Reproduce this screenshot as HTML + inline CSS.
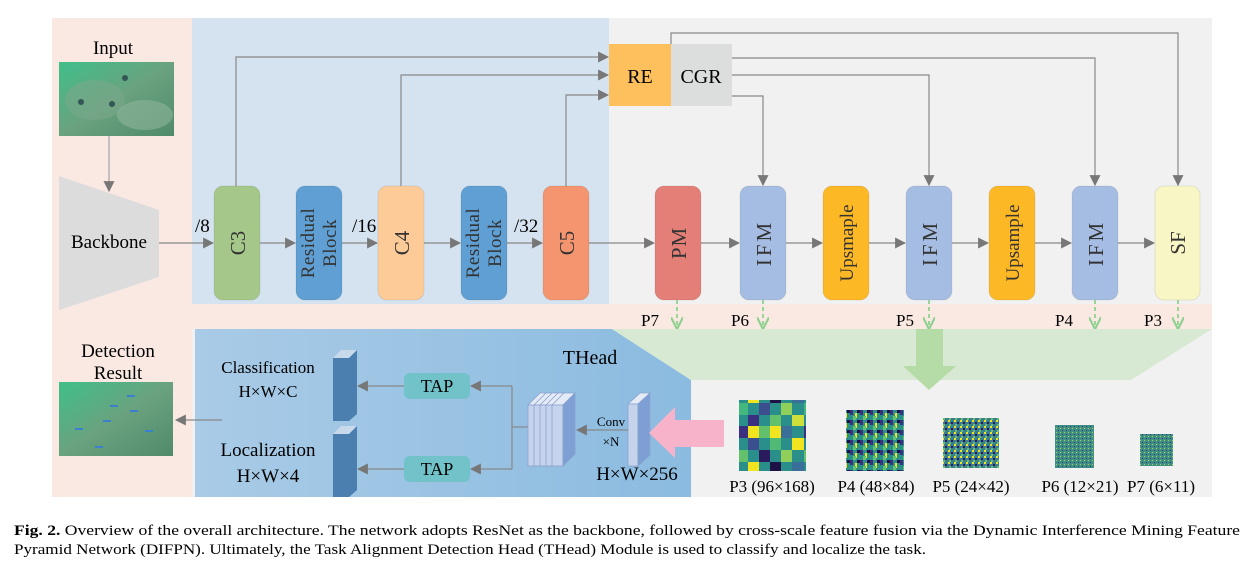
<!DOCTYPE html>
<html><head><meta charset="utf-8"><style>
html,body{margin:0;padding:0;background:#fff;}
svg{display:block;font-family:"Liberation Serif",serif;}
</style></head><body>
<svg width="1252" height="571" viewBox="0 0 1252 571" xmlns="http://www.w3.org/2000/svg">
<defs>
<marker id="a" viewBox="0 0 10 10" refX="9" refY="5" markerWidth="11" markerHeight="11" markerUnits="userSpaceOnUse" orient="auto"><path d="M0,0 L10,5 L0,10 z" fill="#777"/></marker>
<marker id="g" viewBox="0 0 10 10" refX="9" refY="5" markerWidth="12" markerHeight="12" markerUnits="userSpaceOnUse" orient="auto"><path d="M0,0 L10,5 L0,10" fill="none" stroke="#8fd18f" stroke-width="1.8"/></marker>
<linearGradient id="tb" x1="0" x2="1"><stop offset="0" stop-color="#a9cbe6"/><stop offset="1" stop-color="#8bbbe0"/></linearGradient>
<pattern id="p3" width="67" height="71" patternUnits="userSpaceOnUse">
<rect width="67" height="71" fill="#2a8f8b"/>
<rect x="0" y="0" width="11" height="12" fill="#3b2f80"/><rect x="11" y="0" width="11" height="12" fill="#f2e41e"/><rect x="22" y="0" width="11" height="12" fill="#63c06b"/><rect x="33" y="0" width="11" height="12" fill="#f2e41e"/><rect x="44" y="0" width="11" height="12" fill="#3a6f9a"/>
<rect x="11" y="12" width="11" height="12" fill="#3b4f8f"/><rect x="33" y="12" width="11" height="12" fill="#50b975"/><rect x="55" y="12" width="12" height="12" fill="#f2e41e"/>
<rect x="0" y="24" width="11" height="12" fill="#63c06b"/><rect x="22" y="24" width="11" height="12" fill="#2a1a5e"/><rect x="44" y="24" width="11" height="12" fill="#90d05a"/>
<rect x="11" y="36" width="11" height="12" fill="#f2e41e"/><rect x="33" y="36" width="11" height="12" fill="#1d1145"/><rect x="55" y="36" width="12" height="12" fill="#3a6f9a"/>
<rect x="0" y="48" width="11" height="12" fill="#42b87e"/><rect x="22" y="48" width="11" height="12" fill="#3b4f8f"/><rect x="44" y="48" width="11" height="12" fill="#8fd05a"/>
<rect x="11" y="60" width="11" height="11" fill="#3b2f80"/><rect x="33" y="60" width="11" height="11" fill="#63c06b"/><rect x="55" y="60" width="12" height="11" fill="#cfe03a"/>
</pattern>
<pattern id="p4" width="10" height="10" patternUnits="userSpaceOnUse">
<rect width="10" height="10" fill="#2a8f8b"/><rect width="3" height="5" fill="#3b2f80"/><rect x="5" y="3" width="2" height="5" fill="#f2e41e"/><rect x="3" y="6" width="3" height="4" fill="#63c06b"/><rect x="7" y="0" width="3" height="3" fill="#1d1145"/>
</pattern>
<pattern id="p5" width="6" height="6" patternUnits="userSpaceOnUse">
<rect width="6" height="6" fill="#3b7f8f"/><rect width="2" height="2" fill="#f2e41e"/><rect x="3" y="2" width="2" height="2" fill="#2a1a5e"/><rect x="1" y="4" width="2" height="2" fill="#63c06b"/>
</pattern>
<pattern id="p6" width="4" height="4" patternUnits="userSpaceOnUse">
<rect width="4" height="4" fill="#3f8f86"/><rect width="1" height="1" fill="#b0d040"/><rect x="2" y="2" width="1" height="1" fill="#2a3a6e"/>
</pattern>
<linearGradient id="uw" x1="0" y1="0" x2="1" y2="1"><stop offset="0" stop-color="#3fbf8a"/><stop offset=".5" stop-color="#6aa27f"/><stop offset="1" stop-color="#4f8a6a"/></linearGradient>
</defs>

<rect x="52" y="18" width="1160" height="479" fill="#f1f1f1"/>
<rect x="52" y="18" width="140" height="479" fill="#fae8e2"/>
<rect x="52" y="304" width="1160" height="25" fill="#fae8e2"/>
<rect x="192" y="18" width="417" height="286" fill="#d4e3ef"/>
<polygon points="195,329 612,329 691,380 691,497 195,497" fill="url(#tb)"/>
<polygon points="612,329 1212,329 1131,380 691,380" fill="#d8e9d3"/>
<rect x="916" y="329" width="27" height="38" fill="#b5dba7"/>
<polygon points="903,366 956,366 929,390" fill="#b5dba7"/>

<text x="113" y="54" font-size="19" text-anchor="middle">Input</text>
<rect x="59" y="62" width="115" height="74" fill="url(#uw)"/>
<ellipse cx="95" cy="100" rx="30" ry="20" fill="#7aa88a" opacity=".6"/><ellipse cx="145" cy="115" rx="28" ry="15" fill="#8cb49a" opacity=".6"/>
<circle cx="125" cy="78" r="3" fill="#355"/><circle cx="112" cy="104" r="3" fill="#355"/><circle cx="81" cy="102" r="3" fill="#355"/>
<line x1="109" y1="136" x2="109" y2="191" stroke="#aaa" stroke-width="1.3" marker-end="url(#a)"/>
<polygon points="59,176 159,210 159,277 59,310" fill="#dcdcdc"/>
<text x="109" y="248" font-size="19" text-anchor="middle">Backbone</text>

<g stroke="#888" stroke-width="1.2" fill="none">
<line x1="159" y1="243" x2="213" y2="243" marker-end="url(#a)"/>
<line x1="259" y1="243" x2="295" y2="243" marker-end="url(#a)"/>
<line x1="342" y1="243" x2="377" y2="243" marker-end="url(#a)"/>
<line x1="424" y1="243" x2="460" y2="243" marker-end="url(#a)"/>
<line x1="507" y1="243" x2="542" y2="243" marker-end="url(#a)"/>
<line x1="589" y1="243" x2="654" y2="243" marker-end="url(#a)"/>
<line x1="700" y1="243" x2="739" y2="243" marker-end="url(#a)"/>
<line x1="786" y1="243" x2="822" y2="243" marker-end="url(#a)"/>
<line x1="869" y1="243" x2="905" y2="243" marker-end="url(#a)"/>
<line x1="952" y1="243" x2="988" y2="243" marker-end="url(#a)"/>
<line x1="1035" y1="243" x2="1071" y2="243" marker-end="url(#a)"/>
<line x1="1118" y1="243" x2="1154" y2="243" marker-end="url(#a)"/>
<polyline points="236,186 236,57 608,57" marker-end="url(#a)"/>
<polyline points="401,186 401,75 608,75" marker-end="url(#a)"/>
<polyline points="566,186 566,95 608,95" marker-end="url(#a)"/>
<polyline points="671,44 671,33 1178,33 1178,185" marker-end="url(#a)"/>
<polyline points="732,58 1095,58 1095,185" marker-end="url(#a)"/>
<polyline points="732,75 929,75 929,185" marker-end="url(#a)"/>
<polyline points="732,96 763,96 763,185" marker-end="url(#a)"/>
</g>
<g font-size="19">
<text x="195" y="232">/8</text><text x="352" y="232">/16</text><text x="514" y="232">/32</text>
</g>

<g stroke="rgba(0,0,0,0.08)">
<rect x="214" y="186" width="46" height="114" rx="9" fill="#a5c88a"/>
<rect x="296" y="186" width="46" height="114" rx="9" fill="#5f9fd3"/>
<rect x="378" y="186" width="46" height="114" rx="9" fill="#fccb98"/>
<rect x="461" y="186" width="46" height="114" rx="9" fill="#5f9fd3"/>
<rect x="543" y="186" width="46" height="114" rx="9" fill="#f4956f"/>
<rect x="655" y="186" width="46" height="114" rx="9" fill="#e47f77"/>
<rect x="740" y="186" width="46" height="114" rx="9" fill="#a6bde3"/>
<rect x="823" y="186" width="46" height="114" rx="9" fill="#fdb825"/>
<rect x="906" y="186" width="46" height="114" rx="9" fill="#a6bde3"/>
<rect x="989" y="186" width="46" height="114" rx="9" fill="#fdb825"/>
<rect x="1072" y="186" width="46" height="114" rx="9" fill="#a6bde3"/>
<rect x="1155" y="186" width="45" height="114" rx="9" fill="#f8f6c4"/>
</g>
<g font-size="21" fill="#333" text-anchor="middle">
<text transform="translate(245,243) rotate(-90)">C3</text>
<text transform="translate(314,243) rotate(-90)" font-size="19" letter-spacing="0.5">Residual</text>
<text transform="translate(336,243) rotate(-90)" font-size="19" letter-spacing="0.5">Block</text>
<text transform="translate(409,243) rotate(-90)">C4</text>
<text transform="translate(479,243) rotate(-90)" font-size="19" letter-spacing="0.5">Residual</text>
<text transform="translate(501,243) rotate(-90)" font-size="19" letter-spacing="0.5">Block</text>
<text transform="translate(574,243) rotate(-90)">C5</text>
<text transform="translate(686,243) rotate(-90)" letter-spacing="1">PM</text>
<text transform="translate(771,243) rotate(-90)" letter-spacing="3">IFM</text>
<text transform="translate(853,243) rotate(-90)" font-size="19">Upsmaple</text>
<text transform="translate(937,243) rotate(-90)" letter-spacing="3">IFM</text>
<text transform="translate(1019,243) rotate(-90)" font-size="19">Upsample</text>
<text transform="translate(1103,243) rotate(-90)" letter-spacing="3">IFM</text>
<text transform="translate(1185,243) rotate(-90)">SF</text>
</g>
<rect x="609" y="44" width="62" height="62" fill="#fec05c"/>
<rect x="671" y="44" width="61" height="62" fill="#dcdedd"/>
<text x="640" y="83" font-size="20" text-anchor="middle">RE</text>
<text x="701" y="83" font-size="20" text-anchor="middle">CGR</text>

<g stroke="#8fd18f" stroke-width="1.8" stroke-dasharray="4,3" fill="none">
<line x1="677" y1="300" x2="677" y2="328" marker-end="url(#g)"/>
<line x1="763" y1="300" x2="763" y2="328" marker-end="url(#g)"/>
<line x1="929" y1="300" x2="929" y2="328" marker-end="url(#g)"/>
<line x1="1095" y1="300" x2="1095" y2="328" marker-end="url(#g)"/>
<line x1="1178" y1="300" x2="1178" y2="328" marker-end="url(#g)"/>
</g>
<g font-size="17">
<text x="641" y="326">P7</text><text x="731" y="326">P6</text><text x="896" y="326">P5</text><text x="1055" y="326">P4</text><text x="1144" y="326">P3</text>
</g>

<text x="118" y="357" font-size="19" text-anchor="middle">Detection</text>
<text x="118" y="379" font-size="19" text-anchor="middle">Result</text>
<rect x="59" y="382" width="114" height="74" fill="url(#uw)"/>
<g fill="#3a7fd0"><rect x="75" y="428" width="8" height="2"/><rect x="127" y="395" width="8" height="2"/><rect x="103" y="420" width="8" height="2"/><rect x="130" y="410" width="8" height="2"/><rect x="95" y="446" width="8" height="2"/><rect x="145" y="430" width="8" height="2"/><rect x="110" y="405" width="8" height="2"/></g>
<g stroke="#888" stroke-width="1.2" fill="none">
<line x1="222" y1="420" x2="176" y2="420" marker-end="url(#a)"/>
<line x1="404" y1="386" x2="358" y2="386" marker-end="url(#a)"/>
<line x1="404" y1="469" x2="358" y2="469" marker-end="url(#a)"/>
<polyline points="528,427 512,427"/>
<polyline points="512,386 512,469"/>
<line x1="512" y1="386" x2="471" y2="386" marker-end="url(#a)"/>
<line x1="512" y1="469" x2="471" y2="469" marker-end="url(#a)"/>
<line x1="628" y1="430" x2="577" y2="430" marker-end="url(#a)"/>
</g>
<text x="590" y="364" font-size="20" text-anchor="middle">THead</text>
<text x="268" y="373" font-size="17" text-anchor="middle">Classification</text>
<text x="268" y="397" font-size="17" text-anchor="middle">H×W×C</text>
<text x="268" y="456" font-size="19" text-anchor="middle">Localization</text>
<text x="268" y="482" font-size="19" text-anchor="middle">H×W×4</text>
<g>
<polygon points="333,358 341,350 357,350 349,358" fill="#c9d9ec"/><polygon points="349,358 357,350 357,414 349,421" fill="#4a7fb0"/><rect x="333" y="358" width="16" height="63" fill="#4a7fb0"/>
<polygon points="333,434 341,426 357,426 349,434" fill="#c9d9ec"/><polygon points="349,434 357,426 357,490 349,497" fill="#4a7fb0"/><rect x="333" y="434" width="16" height="63" fill="#4a7fb0"/>
</g>
<rect x="404" y="373" width="66" height="26" rx="6" fill="#72c2c9"/>
<rect x="404" y="456" width="66" height="26" rx="6" fill="#72c2c9"/>
<text x="437" y="392" font-size="18" text-anchor="middle">TAP</text>
<text x="437" y="475" font-size="18" text-anchor="middle">TAP</text>
<g stroke="#8aa2cf" stroke-width="0.8">
<polygon points="528,405 540,393 551,393 539,405" fill="#e4ebf6"/><rect x="528" y="405" width="11" height="61" fill="#c5d3ec"/>
<polygon points="534,405 546,393 557,393 545,405" fill="#e4ebf6"/><rect x="534" y="405" width="11" height="61" fill="#c5d3ec"/>
<polygon points="540,405 552,393 563,393 551,405" fill="#e4ebf6"/><rect x="540" y="405" width="11" height="61" fill="#c5d3ec"/>
<polygon points="546,405 558,393 569,393 557,405" fill="#e4ebf6"/><rect x="546" y="405" width="11" height="61" fill="#c5d3ec"/>
<polygon points="552,405 564,393 575,393 563,405" fill="#e4ebf6"/><rect x="552" y="405" width="11" height="61" fill="#c5d3ec"/>
<polygon points="563,405 575,393 575,454 563,466" fill="#7d9fd3"/>
<polygon points="628,404 640,393 650,393 638,404" fill="#e4ebf6"/><rect x="628" y="404" width="10" height="62" fill="#c5d3ec"/>
<polygon points="638,404 650,393 650,455 638,466" fill="#7d9fd3"/>
</g>
<text x="611" y="426" font-size="13" text-anchor="middle">Conv</text>
<text x="611" y="446" font-size="13" text-anchor="middle">×N</text>
<text x="637" y="480" font-size="19" text-anchor="middle">H×W×256</text>
<polygon points="724,420 675,420 675,407 649,433 675,458 675,447 724,447" fill="#f6b3c9"/>

<rect x="739" y="400" width="67" height="71" fill="url(#p3)"/>
<rect x="846" y="410" width="58" height="61" fill="url(#p4)"/>
<rect x="943" y="418" width="56" height="50" fill="url(#p5)"/>
<rect x="1055" y="425" width="39" height="43" fill="url(#p6)"/>
<rect x="1140" y="434" width="33" height="32" fill="url(#p6)"/>
<g font-size="17" text-anchor="middle">
<text x="772" y="492">P3 (96×168)</text><text x="876" y="492">P4 (48×84)</text><text x="971" y="492">P5 (24×42)</text><text x="1080" y="492">P6 (12×21)</text><text x="1161" y="492">P7 (6×11)</text>
</g>

<text x="14" y="535" font-size="15" textLength="1226" lengthAdjust="spacingAndGlyphs"><tspan font-weight="bold">Fig. 2.</tspan> Overview of the overall architecture. The network adopts ResNet as the backbone, followed by cross-scale feature fusion via the Dynamic Interference Mining Feature</text>
<text x="14" y="554" font-size="15" textLength="912" lengthAdjust="spacingAndGlyphs">Pyramid Network (DIFPN). Ultimately, the Task Alignment Detection Head (THead) Module is used to classify and localize the task.</text>
</svg>
</body></html>
